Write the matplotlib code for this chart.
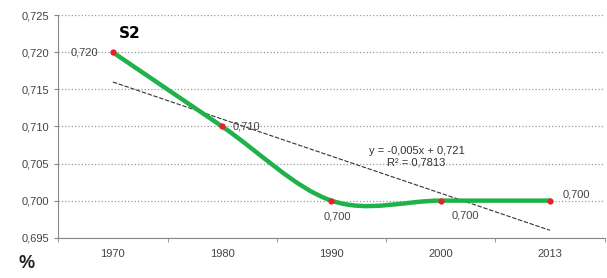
import numpy as np
import matplotlib.pyplot as plt
from matplotlib.path import Path
from matplotlib.patches import PathPatch

plt.rcParams['font.family'] = ['Liberation Sans', 'DejaVu Sans']

years = ['1970', '1980', '1990', '2000', '2013']
values = [0.720, 0.710, 0.700, 0.700, 0.700]
value_labels = ['0,720', '0,710', '0,700', '0,700', '0,700']
trend_slope = -0.005
trend_intercept = 0.721
y_ticks = [0.695, 0.700, 0.705, 0.710, 0.715, 0.720, 0.725]

x = np.arange(len(years))
y = np.array(values)

fig = plt.figure(figsize=(6.07, 2.78), dpi=100)
ax = fig.add_axes([0.096, 0.145, 0.9, 0.8])

# smoothed line like Excel (cubic bezier through the points)
pts = np.column_stack([x, y]).astype(float)
ext = np.vstack([2 * pts[0] - pts[1], pts, 2 * pts[-1] - pts[-2]])
verts = [tuple(pts[0])]
codes = [Path.MOVETO]
for i in range(1, len(ext) - 2):
    p0, p1, p2, p3 = ext[i - 1], ext[i], ext[i + 1], ext[i + 2]
    c1 = p1 + (p2 - p0) / 6
    c2 = p2 - (p3 - p1) / 6
    verts += [tuple(c1), tuple(c2), tuple(p2)]
    codes += [Path.CURVE4] * 3
ax.add_patch(PathPatch(Path(verts, codes), fill=False, edgecolor='#1fb24a',
                       lw=3.2, capstyle='round', zorder=3))
ax.plot(x, y, 'o', color='#e8202a', ms=3.5, zorder=4)

# linear trend
trend = trend_slope * (x + 1) + trend_intercept
ax.plot(x, trend, color='#333333', lw=0.8, ls=(0, (4, 1.5)), zorder=2)
ax.text(2.78, 0.7059, 'y = -0,005x + 0,721\nR² = 0,7813', ha='center',
        va='center', fontsize=8, color='#333333', linespacing=1.15)

# data labels
lab = dict(fontsize=8, color='#444444')
ax.text(x[0] - 0.13, y[0], value_labels[0], ha='right', va='center', **lab)
ax.text(x[1] + 0.1, y[1], value_labels[1], ha='left', va='center', **lab)
ax.text(x[2] + 0.05, y[2] - 0.0015, value_labels[2], ha='center', va='top', **lab)
ax.text(x[3] + 0.23, y[3] - 0.0013, value_labels[3], ha='center', va='top', **lab)
ax.text(x[4] + 0.12, y[4] + 0.0002, value_labels[4], ha='left', va='bottom', **lab)

ax.text(0.15, 0.7225, 'S2', fontsize=11, fontweight='bold', ha='center', va='center',
        family='DejaVu Sans')

ax.set_xlim(-0.5, len(x) - 0.5)
ax.set_ylim(0.695, 0.725)
ax.set_yticks(y_ticks)
ax.set_yticklabels([f'{v:.3f}'.replace('.', ',') for v in y_ticks])
ax.set_xticks(x)
ax.set_xticklabels(years)
ax.set_xticks(np.arange(-0.5, len(x), 1), minor=True)
ax.tick_params(axis='x', which='major', length=0, pad=8, labelsize=8, labelcolor='#444444')
ax.tick_params(axis='x', which='minor', length=3, color='#888888')
ax.tick_params(axis='y', length=3, color='#888888', labelsize=8, labelcolor='#444444')
ax.grid(axis='y', color='#999999', ls=':', lw=0.9)
for s in ['top', 'right']:
    ax.spines[s].set_visible(False)
for s in ['left', 'bottom']:
    ax.spines[s].set_color('#888888')

fig.text(0.03, 0.035, '%', fontsize=13, fontweight='bold', color='#222222')

fig.savefig('out.png', dpi=100)
